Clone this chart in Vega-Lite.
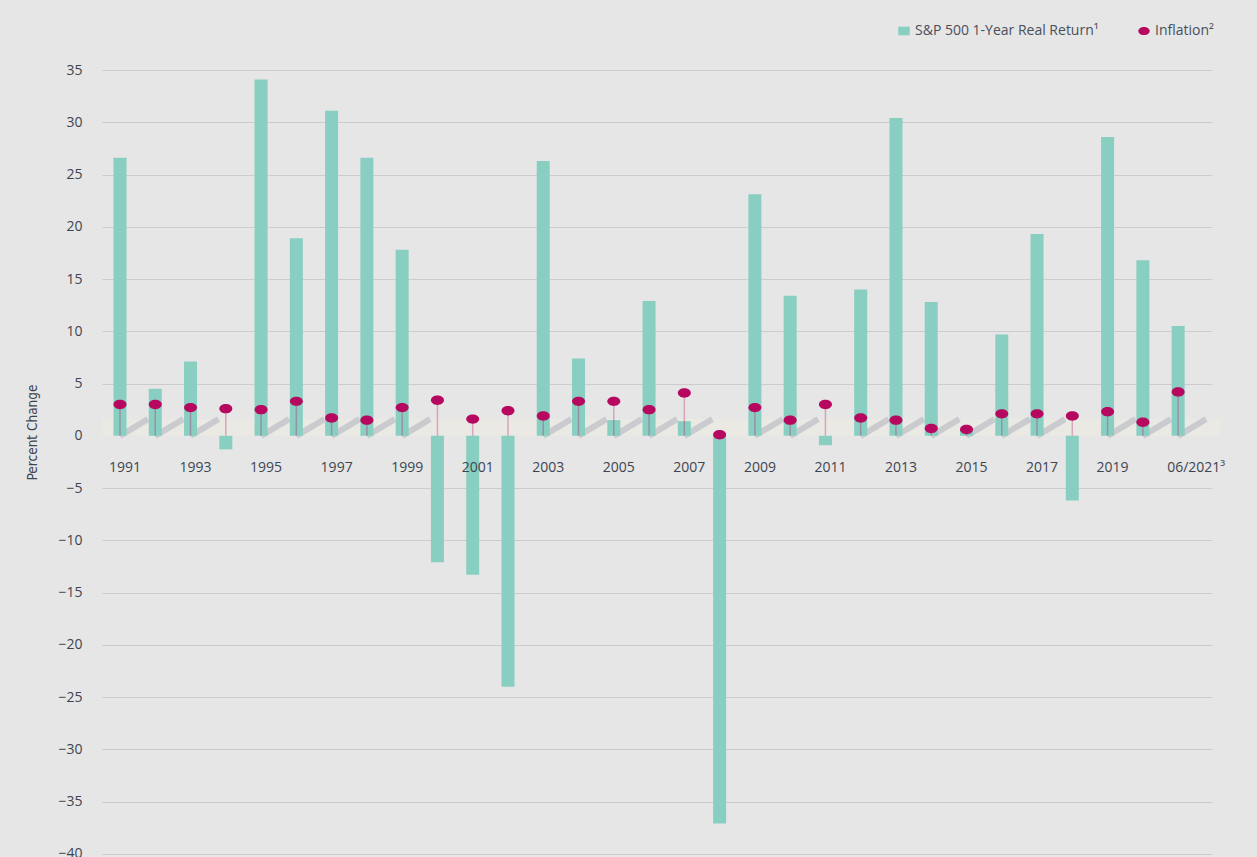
{
  "$schema": "https://vega.github.io/schema/vega-lite/v6.json",
  "width": 1110,
  "height": 787,
  "autosize": {"type": "none"},
  "padding": {"left": 102, "top": 70, "right": 45, "bottom": 0},
  "background": "#e6e6e6",
  "config": {
    "view": {"stroke": null},
    "font": "Open Sans"
  },
  "data": {
    "values": [
      {"year": 1991, "lab": "1991", "ret": 26.6, "infl": 3.0},
      {"year": 1992, "lab": "", "ret": 4.5, "infl": 3.0},
      {"year": 1993, "lab": "1993", "ret": 7.1, "infl": 2.7},
      {"year": 1994, "lab": "", "ret": -1.3, "infl": 2.6},
      {"year": 1995, "lab": "1995", "ret": 34.1, "infl": 2.5},
      {"year": 1996, "lab": "", "ret": 18.9, "infl": 3.3},
      {"year": 1997, "lab": "1997", "ret": 31.1, "infl": 1.7},
      {"year": 1998, "lab": "", "ret": 26.6, "infl": 1.5},
      {"year": 1999, "lab": "1999", "ret": 17.8, "infl": 2.7},
      {"year": 2000, "lab": "", "ret": -12.1, "infl": 3.4},
      {"year": 2001, "lab": "2001", "ret": -13.3, "infl": 1.6},
      {"year": 2002, "lab": "", "ret": -24.0, "infl": 2.4},
      {"year": 2003, "lab": "2003", "ret": 26.3, "infl": 1.9},
      {"year": 2004, "lab": "", "ret": 7.4, "infl": 3.3},
      {"year": 2005, "lab": "2005", "ret": 1.5, "infl": 3.3},
      {"year": 2006, "lab": "", "ret": 12.9, "infl": 2.5},
      {"year": 2007, "lab": "2007", "ret": 1.4, "infl": 4.1},
      {"year": 2008, "lab": "", "ret": -37.1, "infl": 0.1},
      {"year": 2009, "lab": "2009", "ret": 23.1, "infl": 2.7},
      {"year": 2010, "lab": "", "ret": 13.4, "infl": 1.5},
      {"year": 2011, "lab": "2011", "ret": -0.9, "infl": 3.0},
      {"year": 2012, "lab": "", "ret": 14.0, "infl": 1.7},
      {"year": 2013, "lab": "2013", "ret": 30.4, "infl": 1.5},
      {"year": 2014, "lab": "", "ret": 12.8, "infl": 0.7},
      {"year": 2015, "lab": "2015", "ret": 0.6, "infl": 0.6},
      {"year": 2016, "lab": "", "ret": 9.7, "infl": 2.1},
      {"year": 2017, "lab": "2017", "ret": 19.3, "infl": 2.1},
      {"year": 2018, "lab": "", "ret": -6.2, "infl": 1.9},
      {"year": 2019, "lab": "2019", "ret": 28.6, "infl": 2.3},
      {"year": 2020, "lab": "", "ret": 16.8, "infl": 1.3},
      {"year": 2021, "lab": "06/2021³", "ret": 10.5, "infl": 4.2}
    ]
  },
  "layer": [
    {
      "mark": {"type": "rect", "color": "#eae9e4", "clip": false},
      "encoding": {
        "x": {"datum": 1990.5, "type": "quantitative", "scale": {"domain": [1990.49, 2021.96], "nice": false, "zero": false, "padding": 0}, "axis": null},
        "x2": {"datum": 2022.2},
        "y": {"datum": 0, "type": "quantitative",
          "scale": {"domain": [-40.3, 35], "nice": false, "zero": false, "padding": 0},
          "axis": {
            "values": [-40, -35, -30, -25, -20, -15, -10, -5, 0, 5, 10, 15, 20, 25, 30, 35],
            "domain": false,
            "ticks": false,
            "grid": true,
            "gridColor": {"condition": {"test": "datum.value === 0", "value": "transparent"}, "value": "#cccccc"},
            "gridWidth": 1,
            "labelPadding": 20,
            "labelFont": "Open Sans",
            "labelFontSize": 14,
            "labelColor": "#3d4552",
            "title": "Percent Change",
            "titleFont": "DejaVu Sans Condensed, Liberation Sans Narrow, sans-serif",
            "titleFontWeight": "normal",
            "titleFontSize": 13.5,
            "titleColor": "#3d4552",
            "titleX": -70,
            "titleY": 362,
            "titleAlign": "center",
            "titleBaseline": "middle",
            "titleAngle": -90
          }
        },
        "y2": {"datum": 1.6}
      }
    },
    {
      "transform": [{"filter": "datum.ret > 0"}],
      "mark": {"type": "rule", "color": "#cacbce", "strokeWidth": 6, "x2Offset": 28, "strokeCap": "butt"},
      "encoding": {
        "x": {"field": "year", "type": "quantitative"},
        "x2": {"field": "year"},
        "y": {"datum": 0, "type": "quantitative"},
        "y2": {"datum": 1.6}
      }
    },
    {
      "mark": {"type": "bar", "width": 13},
      "encoding": {
        "x": {"field": "year", "type": "quantitative"},
        "y": {"field": "ret", "type": "quantitative"},
        "y2": {"datum": 0},
        "color": {
          "datum": "S&P 500 1-Year Real Return¹",
          "type": "nominal",
          "scale": {"domain": ["S&P 500 1-Year Real Return¹", "Inflation²"], "range": ["#88cfc2", "#b5085e"]},
          "legend": {
            "title": null,
            "orient": "none",
            "direction": "horizontal",
            "legendX": 795,
            "legendY": -46,
            "columnPadding": 38,
            "labelFont": "Open Sans",
            "labelFontSize": 14,
            "labelColor": "#4a4e5a",
            "labelLimit": 0,
            "symbolSize": 130,
            "symbolStrokeWidth": 0,
            "encode": {
              "symbols": {
                "update": {
                  "shape": {"signal": "datum.value === 'Inflation²' ? 'M-1,0A1,0.72,0,1,1,1,0A1,0.72,0,1,1,-1,0Z' : 'M-1,-0.75L1,-0.75L1,0.75L-1,0.75Z'"}
                }
              }
            }
          }
        }
      }
    },
    {
      "mark": {"type": "rule", "color": "#b5085e", "opacity": 0.3, "strokeWidth": 1.5},
      "encoding": {
        "x": {"field": "year", "type": "quantitative"},
        "y": {"field": "infl", "type": "quantitative"},
        "y2": {"datum": 0}
      }
    },
    {
      "mark": {"type": "point", "filled": true, "opacity": 1, "size": 169, "shape": "M-1,0A1,0.72,0,1,1,1,0A1,0.72,0,1,1,-1,0Z"},
      "encoding": {
        "x": {"field": "year", "type": "quantitative"},
        "y": {"field": "infl", "type": "quantitative"},
        "color": {"datum": "Inflation²", "type": "nominal"}
      }
    },
    {
      "transform": [{"filter": "datum.lab !== ''"}],
      "mark": {"type": "text", "align": "left", "dx": -11, "baseline": "middle", "font": "Open Sans", "fontSize": 14, "color": "#3d4552"},
      "encoding": {
        "x": {"field": "year", "type": "quantitative"},
        "y": {"datum": -3.1, "type": "quantitative"},
        "text": {"field": "lab"}
      }
    }
  ]
}
